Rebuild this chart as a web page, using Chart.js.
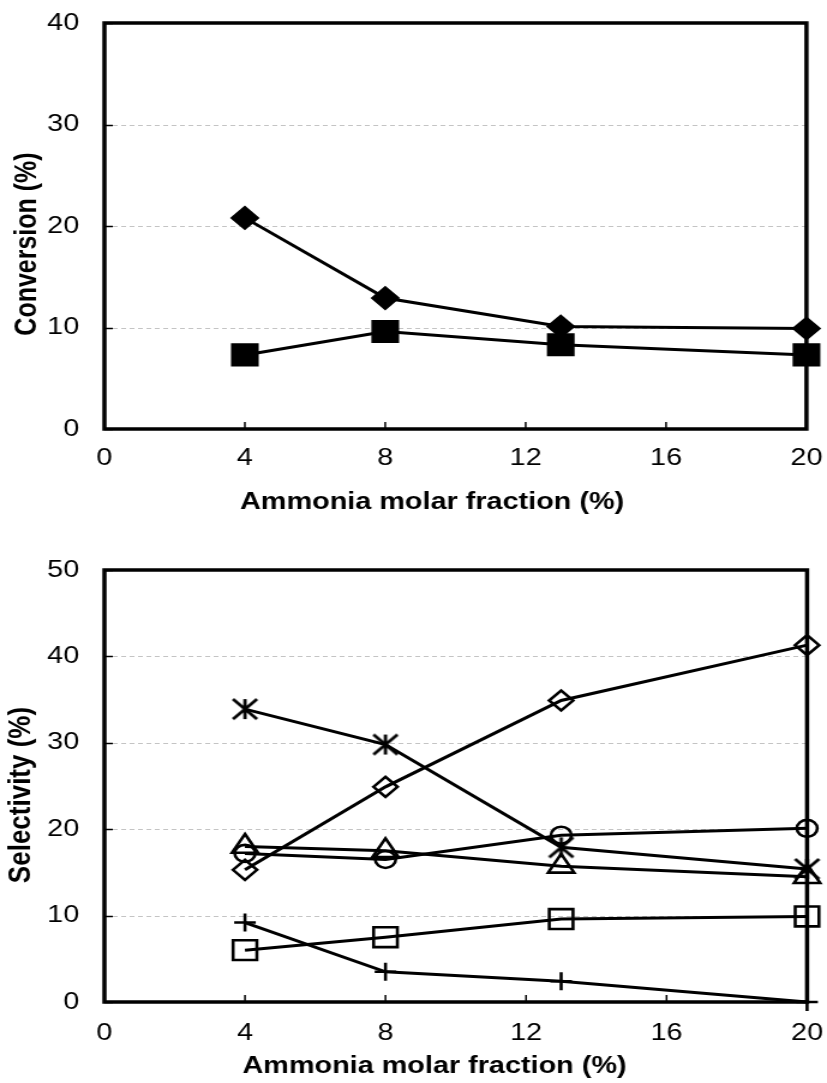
<!DOCTYPE html>
<html>
<head>
<meta charset="utf-8">
<script src="https://cdn.jsdelivr.net/npm/chart.js@4/dist/chart.umd.min.js"></script>
<style>
  body { margin: 0; background: #fff; }
  canvas { display: block; }
</style>
</head>
<body>
<!-- canvases are drawn narrow and stretched sideways by CSS -->
<canvas id="conv" width="689" height="540" style="width:827px;height:540px"></canvas>
<canvas id="sel" width="689" height="543" style="width:827px;height:543px"></canvas>
<script>
// ammonia molar fraction (%) of each run
const ammonia = [4, 8, 13, 20];
const xTicks = [0, 4, 8, 12, 16, 20];

// conversion (%)
const convTicks = [0, 10, 20, 30, 40];
const convDiamond = [20.8, 12.9, 10.1, 9.9];
const convSquare = [7.3, 9.6, 8.3, 7.3];

// selectivity (%)
const selTicks = [0, 10, 20, 30, 40, 50];
const selDiamond = [15.3, 24.9, 34.9, 41.3];
const selAsterisk = [33.9, 29.8, 17.9, 15.4];
const selCircle = [17.2, 16.5, 19.3, 20.1];
const selTriangle = [18.0, 17.5, 15.7, 14.5];
const selSquare = [6.0, 7.5, 9.6, 9.9];
const selPlus = [9.2, 3.5, 2.4, 0];

const FONT = "'Liberation Sans', Arial, Helvetica, sans-serif";
Chart.defaults.font.family = FONT;
Chart.defaults.color = '#000';

const pts = ys => ammonia.map((x, i) => ({ x: x, y: ys[i] }));

// excel style "*" marker: vertical bar plus an X
function asteriskMark(size, lw) {
  const c = document.createElement('canvas');
  c.width = c.height = size;
  const g = c.getContext('2d');
  const m = size / 2, r = size / 2 - 2;
  g.strokeStyle = '#000';
  g.lineWidth = lw;
  g.beginPath();
  g.moveTo(m, m - r); g.lineTo(m, m + r);
  g.moveTo(m - r, m - r); g.lineTo(m + r, m + r);
  g.moveTo(m + r, m - r); g.lineTo(m - r, m + r);
  g.stroke();
  return c;
}

function series(ys, style, radius, filled) {
  return {
    data: pts(ys),
    borderColor: '#000',
    borderWidth: 3,
    pointStyle: style,
    pointRadius: radius,
    pointHoverRadius: radius,
    pointBorderColor: '#000',
    pointBackgroundColor: filled ? '#000' : 'rgba(0,0,0,0)',
    pointBorderWidth: 2.6,
    tension: 0,
    clip: false
  };
}

// dashed grid, inward ticks and the box around the plot
const framePlugin = {
  id: 'frame',
  beforeDatasetsDraw(chart) {
    const { ctx, chartArea: a, scales: { x, y } } = chart;
    ctx.save();
    ctx.strokeStyle = '#c4c4c4';
    ctx.lineWidth = 1;
    ctx.setLineDash([4, 3]);
    y.ticks.forEach(t => {
      if (t.value <= y.min || t.value >= y.max) return;
      const py = Math.round(y.getPixelForValue(t.value)) + 0.5;
      ctx.beginPath(); ctx.moveTo(a.left + 7, py); ctx.lineTo(a.right, py); ctx.stroke();
    });
    ctx.setLineDash([]);
    ctx.strokeStyle = '#000';
    ctx.lineWidth = 1.5;
    y.ticks.forEach(t => {
      const py = Math.round(y.getPixelForValue(t.value)) + 0.5;
      ctx.beginPath(); ctx.moveTo(a.left, py); ctx.lineTo(a.left + 7, py); ctx.stroke();
    });
    x.ticks.forEach(t => {
      const px = x.getPixelForValue(t.value);
      ctx.beginPath(); ctx.moveTo(px, a.bottom); ctx.lineTo(px, a.bottom - 7); ctx.stroke();
    });
    ctx.lineWidth = 3.5;
    ctx.strokeRect(a.left, a.top, a.right - a.left, a.bottom - a.top);
    ctx.restore();
  }
};

// axis titles
const titlesPlugin = {
  id: 'titles',
  afterDraw(chart, args, opts) {
    const ctx = chart.ctx;
    ctx.save();
    ctx.fillStyle = '#000';
    ctx.textAlign = 'center';
    ctx.textBaseline = 'middle';
    ctx.font = 'bold ' + opts.xSize + 'px ' + FONT;
    ctx.fillText(opts.xText, opts.xAt[0], opts.xAt[1]);
    ctx.translate(opts.yAt[0], opts.yAt[1]);
    ctx.rotate(-Math.PI / 2);
    ctx.font = 'bold ' + opts.ySize + 'px ' + FONT;
    ctx.fillText(opts.yText, 0, 0);
    ctx.restore();
  }
};

function makeChart(id, datasets, yMax, yTicks, cfg) {
  return new Chart(document.getElementById(id), {
    type: 'line',
    data: { datasets: datasets },
    plugins: [framePlugin, titlesPlugin],
    options: {
      responsive: false,
      devicePixelRatio: 1,
      animation: false,
      events: [],
      layout: { padding: { top: cfg.top, right: 15, left: 0, bottom: 0 } },
      plugins: {
        legend: { display: false },
        tooltip: { enabled: false },
        titles: cfg.titles
      },
      scales: {
        x: {
          type: 'linear',
          min: 0,
          max: 20,
          afterBuildTicks: s => { s.ticks = xTicks.map(v => ({ value: v })); },
          afterFit: s => { s.height = cfg.xHeight; s.paddingLeft = 0; s.paddingRight = 0; },
          grid: { display: false, drawTicks: false },
          border: { display: false },
          ticks: { font: { size: 24 }, padding: cfg.xTickPad, maxRotation: 0, autoSkip: false }
        },
        y: {
          min: 0,
          max: yMax,
          afterBuildTicks: s => { s.ticks = yTicks.map(v => ({ value: v })); },
          afterFit: s => { s.width = 87; s.paddingTop = 0; s.paddingBottom = 0; },
          grid: { display: false, drawTicks: false },
          border: { display: false },
          ticks: { font: { size: 24 }, padding: 21 }
        }
      }
    }
  });
}

makeChart('conv', [
  series(convDiamond, 'rectRot', 10.5, true),
  series(convSquare, 'rect', 14.5, true)
], 40, convTicks, {
  top: 23, xHeight: 111, xTickPad: 15,
  titles: {
    xText: 'Ammonia molar fraction (%)', xSize: 24, xAt: [360, 502],
    yText: 'Conversion (%)', ySize: 25, yAt: [23, 244]
  }
});

makeChart('sel', [
  series(selDiamond, 'rectRot', 10, false),
  series(selAsterisk, asteriskMark(24, 2.8), 10, false),
  series(selCircle, 'circle', 8.5, false),
  series(selTriangle, 'triangle', 12.5, false),
  series(selSquare, 'rect', 14, false),
  series(selPlus, 'cross', 9, false)
], 50, selTicks, {
  top: 30, xHeight: 81, xTickPad: 17,
  titles: {
    xText: 'Ammonia molar fraction (%)', xSize: 24, xAt: [362, 526],
    yText: 'Selectivity (%)', ySize: 26, yAt: [18, 255]
  }
});
</script>
</body>
</html>
